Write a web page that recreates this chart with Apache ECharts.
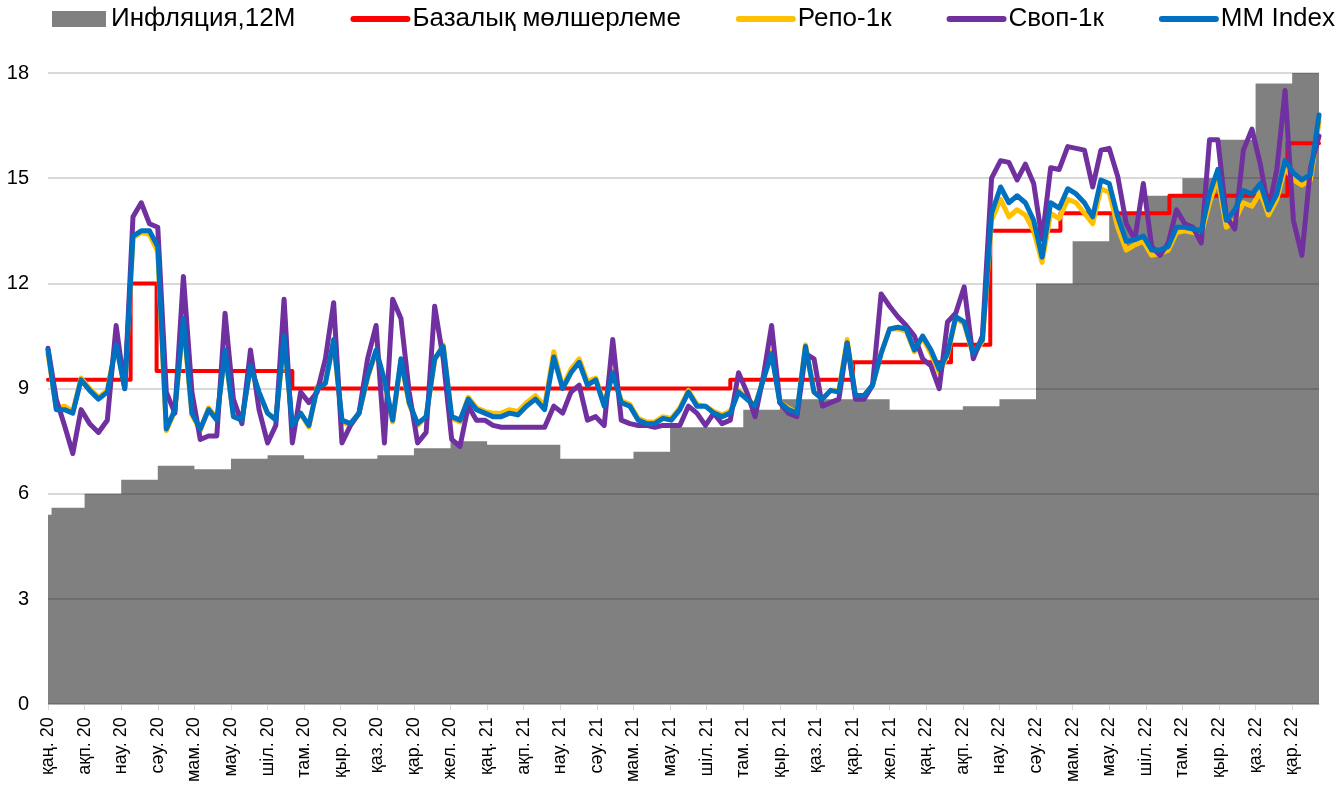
<!DOCTYPE html>
<html>
<head>
<meta charset="utf-8">
<title>Инфляция и ставки денежного рынка</title>
<script src="https://cdn.jsdelivr.net/npm/echarts@6/dist/echarts.min.js"></script>
<style>
  html, body { margin: 0; padding: 0; background: #fff; }
  #chart { width: 1343px; height: 785px; }
</style>
</head>
<body>
<div id="chart"></div>
<script>
const FONT = '"Liberation Sans", Arial, "DejaVu Sans", sans-serif';

// подписи оси X (месяцы, каз.)
const monthNames = ['қаң.', 'ақп.', 'нау.', 'сәу.', 'мам.', 'мау.', 'шіл.', 'там.', 'қыр.', 'қаз.', 'қар.', 'жел.'];

// инфляция 12М по месяцам, янв.2020 .. ноя.2022
const inflationStart = 5.4;
const inflation = [5.6, 6.0, 6.4, 6.8, 6.7, 7.0, 7.1, 7.0, 7.0, 7.1, 7.3, 7.5,
  7.4, 7.4, 7.0, 7.0, 7.2, 7.9, 7.9, 8.4, 8.7, 8.7, 8.7, 8.4,
  8.4, 8.5, 8.7, 12.0, 13.2, 14.0, 14.5, 15.0, 16.1, 17.7, 18.3];

// базовая ставка: даты изменений и значения
const rateDates = ['2020-01-01', '2020-03-09', '2020-03-31', '2020-07-22', '2021-07-21', '2021-11-01',
  '2022-01-22', '2022-02-22', '2022-04-21', '2022-07-21', '2022-10-28'];
const rateValues = [9.25, 12, 9.5, 9, 9.25, 9.75, 10.25, 13.5, 14, 14.5, 16];

// недельные наблюдения с 2020-01-01
const firstDate = '2020-01-01';

const mmIndex = [
  10.1, 8.4, 8.4, 8.3, 9.25, 8.95, 8.7, 8.9, 10.25, 9.0,
  13.35, 13.5, 13.5, 13.05, 7.85, 8.4, 11.0, 8.3, 7.85, 8.4,
  8.1, 10.1, 8.2, 8.1, 9.65, 8.9, 8.3, 8.1, 10.5, 7.95,
  8.3, 7.95, 9.0, 9.15, 10.4, 8.1, 8.0, 8.3, 9.35, 10.1,
  9.25, 8.1, 9.85, 8.6, 8.0, 8.2, 9.85, 10.2, 8.2, 8.1,
  8.7, 8.4, 8.3, 8.2, 8.2, 8.3, 8.25, 8.5, 8.7, 8.4,
  9.9, 9.0, 9.45, 9.75, 9.1, 9.25, 8.5, 9.45, 8.6, 8.5,
  8.1, 8.0, 8.0, 8.15, 8.1, 8.4, 8.9, 8.5, 8.5, 8.3,
  8.2, 8.3, 8.9, 8.7, 8.5, 9.25, 10.0, 8.6, 8.4, 8.3,
  10.2, 8.9, 8.7, 8.95, 8.9, 10.3, 8.8, 8.8, 9.1, 10.0,
  10.7, 10.75, 10.7, 10.1, 10.5, 10.1, 9.55, 10.0, 11.05, 10.9,
  10.0, 10.4, 14.0, 14.75, 14.3, 14.5, 14.3, 13.8, 12.75, 14.3,
  14.15, 14.7, 14.55, 14.3, 13.9, 14.95, 14.85, 13.9, 13.2, 13.25,
  13.35, 12.95, 12.95, 13.05, 13.6, 13.6, 13.55, 13.5, 14.55, 15.25,
  13.8, 14.1, 14.65, 14.55, 14.85, 14.1, 14.55, 15.5, 15.15, 14.95, 15.1, 16.8
];

const swap = [
  10.15, 8.7, 7.95, 7.15, 8.4, 8.0, 7.75, 8.1, 10.8, 9.0,
  13.9, 14.3, 13.7, 13.6, 8.9, 8.3, 12.2, 8.9, 7.55, 7.65,
  7.65, 11.15, 8.7, 8.0, 10.1, 8.4, 7.45, 7.95, 11.55, 7.45,
  8.9, 8.6, 8.9, 9.85, 11.45, 7.45, 7.95, 8.3, 9.85, 10.8,
  7.45, 11.55, 11.0, 8.9, 7.45, 7.75, 11.35, 9.85, 7.55, 7.35,
  8.5, 8.1, 8.1, 7.95, 7.9, 7.9, 7.9, 7.9, 7.9, 7.9,
  8.5, 8.3, 8.9, 9.1, 8.1, 8.2, 7.95, 10.4, 8.1, 8.0,
  7.95, 7.95, 7.9, 7.95, 7.95, 7.95, 8.5, 8.3, 7.95, 8.3,
  8.0, 8.1, 9.45, 8.9, 8.2, 9.35, 10.8, 8.6, 8.3, 8.2,
  10.0, 9.85, 8.5, 8.6, 8.7, 10.3, 8.7, 8.7, 9.1, 11.7,
  11.35, 11.05, 10.8, 10.5, 9.85, 9.65, 9.0, 10.9, 11.15, 11.9,
  9.85, 10.5, 15.0, 15.5, 15.45, 14.95, 15.4, 14.85, 13.25, 15.3,
  15.25, 15.9, 15.85, 15.8, 14.75, 15.8, 15.85, 15.05, 13.7, 13.25,
  14.85, 13.05, 12.8, 13.15, 14.1, 13.7, 13.6, 13.15, 16.1, 16.1,
  13.9, 13.55, 15.8, 16.4, 15.4, 14.1, 15.25, 17.5, 13.8, 12.8, 15.3, 16.2
];

const repo = [
  10.0, 8.45, 8.5, 8.35, 9.3, 9.0, 8.75, 8.95, 10.3, 9.05,
  13.3, 13.45, 13.4, 12.9, 7.8, 8.35, 10.9, 8.25, 7.8, 8.45,
  8.15, 10.0, 8.25, 8.15, 9.6, 8.85, 8.3, 8.15, 10.4, 7.9,
  8.3, 7.9, 9.05, 9.2, 10.3, 8.05, 7.95, 8.3, 9.3, 10.05,
  9.2, 8.05, 9.8, 8.55, 7.95, 8.2, 9.8, 10.25, 8.15, 8.05,
  8.75, 8.45, 8.35, 8.3, 8.3, 8.4, 8.35, 8.6, 8.8, 8.5,
  10.05, 9.05, 9.55, 9.85, 9.2, 9.3, 8.55, 9.5, 8.65, 8.55,
  8.15, 8.05, 8.05, 8.2, 8.15, 8.45, 8.95, 8.55, 8.5, 8.35,
  8.25, 8.35, 8.95, 8.75, 8.5, 9.3, 10.05, 8.6, 8.45, 8.3,
  10.25, 8.9, 8.7, 8.95, 8.95, 10.4, 8.8, 8.8, 9.1, 10.0,
  10.7, 10.7, 10.65, 10.05, 10.45, 10.0, 9.45, 9.95, 11.0, 10.85,
  9.95, 10.35, 13.8, 14.4, 13.9, 14.1, 13.95, 13.5, 12.6, 14.0,
  13.85, 14.4, 14.3, 14.0, 13.7, 14.7, 14.6, 13.6, 12.95, 13.1,
  13.2, 12.8, 12.85, 12.95, 13.45, 13.5, 13.45, 13.4, 14.3, 15.0,
  13.6, 13.8, 14.3, 14.2, 14.6, 13.95, 14.4, 15.3, 14.95, 14.8, 14.95, 16.6
];

function addDays(s, n) {
  const t = new Date(s + 'T00:00:00Z');
  t.setUTCDate(t.getUTCDate() + n);
  return t.toISOString().slice(0, 10);
}
// позиция даты на оси в месяцах от января 2020
function monthPos(s) {
  const [y, m, d] = s.split('-').map(Number);
  const dim = new Date(Date.UTC(y, m, 0)).getUTCDate();
  return (y - 2020) * 12 + (m - 1) + (d - 1) / dim;
}

const weekDates = mmIndex.map((_, i) => addDays(firstDate, 7 * i));
const weekPos = weekDates.map(monthPos);
const xMax = weekPos[weekPos.length - 1];
const labelMonths = inflation.map((_, k) => k);

const inflationData = [[0, inflationStart], [monthPos('2020-01-04'), inflation[0]]]
  .concat(inflation.slice(1).map((v, k) => [k + 1, v]))
  .concat([[xMax, inflation[inflation.length - 1]]]);
const rateData = rateDates.map((d, k) => [monthPos(d), rateValues[k]])
  .concat([[xMax, rateValues[rateValues.length - 1]]]);

function lineSeries(name, values, color, width) {
  return {
    name: name,
    type: 'line',
    data: values.map((v, i) => [weekPos[i], v]),
    symbol: 'none',
    z: 3,
    color: color,
    lineStyle: { color: color, width: width, join: 'round', cap: 'round' }
  };
}

const chart = echarts.init(document.getElementById('chart'));
chart.setOption({
  animation: false,
  textStyle: { fontFamily: FONT },
  legend: {
    top: 6,
    left: 52,
    width: 1500,
    padding: 0,
    itemWidth: 54,
    itemHeight: 16,
    itemGap: 55,
    itemStyle: { opacity: 0 },
    lineStyle: { width: 6, cap: 'round' },
    textStyle: { fontSize: 26, color: '#000', fontFamily: FONT },
    data: [
      { name: 'Инфляция,12M', icon: 'rect', itemStyle: { opacity: 1 } },
      'Базалық мөлшерлеме', 'Репо-1к', 'Своп-1к', 'MM Index'
    ]
  },
  grid: { left: 48, right: 24, top: 73, bottom: 79 },
  xAxis: {
    type: 'value',
    min: 0,
    max: xMax,
    splitLine: { show: false },
    axisLine: { show: true, onZero: false, lineStyle: { color: '#d9d9d9', width: 1 } },
    axisTick: { show: true, customValues: labelMonths, length: 6, lineStyle: { color: '#d9d9d9' } },
    axisLabel: {
      customValues: labelMonths,
      rotate: 90,
      fontSize: 18,
      color: '#000',
      margin: 13,
      formatter: function (v) {
        const k = Math.round(v);
        return monthNames[k % 12] + ' ' + (20 + Math.floor(k / 12));
      }
    }
  },
  yAxis: {
    type: 'value',
    min: 0,
    max: 18,
    interval: 3,
    z: 2,
    axisLine: { show: false },
    axisTick: { show: false },
    splitLine: { lineStyle: { color: 'rgba(0,0,0,0.15)', width: 2 } },
    axisLabel: { fontSize: 20, color: '#000', margin: 19 }
  },
  series: [
    {
      name: 'Инфляция,12M',
      type: 'line',
      step: 'end',
      data: inflationData,
      symbol: 'none',
      z: 1,
      color: '#808080',
      lineStyle: { width: 0 },
      areaStyle: { color: '#808080', opacity: 1 }
    },
    Object.assign(lineSeries('Базалық мөлшерлеме', [], '#ff0000', 4), { data: rateData, step: 'end' }),
    lineSeries('Репо-1к', repo, '#ffc000', 5),
    lineSeries('Своп-1к', swap, '#7030a0', 5),
    lineSeries('MM Index', mmIndex, '#0070c0', 5)
  ]
});
</script>
</body>
</html>
